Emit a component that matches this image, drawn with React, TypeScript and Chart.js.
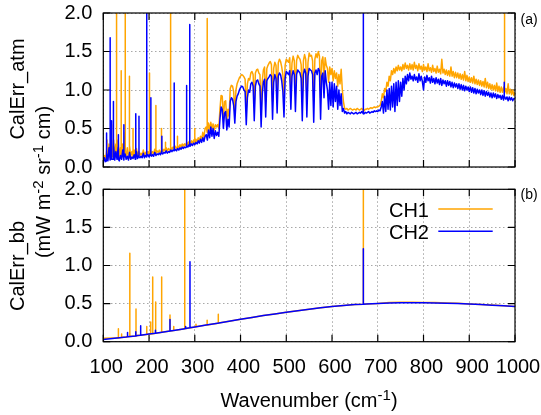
import React, { useEffect, useRef } from 'react';
import { Chart, registerables } from 'chart.js';

Chart.register(...registerables);

const FONT_FAMILY = "'Liberation Sans', Arial, Helvetica, sans-serif";
const ORANGE = '#ffa500';
const BLUE = '#0000ff';

const xTickValues = [100, 200, 300, 400, 500, 600, 700, 800, 900, 1000];
const yTickValues = [0, 0.5, 1.0, 1.5, 2.0];

// ---------- (a) CalErr_atm, sampled every 2.5 cm-1 from 100 (one row = 25 cm-1) ----------
const atmStartWn = 100;
const atmStepWn = 2.5;
const ch1Atm = [
  0.07, 0.15, 0.09, 0.22, 0.10, 0.30, 0.12, 0.20, 0.14, 0.35, // 100
  0.12, 0.30, 0.14, 0.35, 0.12, 0.25, 0.15, 0.30, 0.13, 0.45, // 125
  0.14, 0.25, 0.12, 0.28, 0.14, 0.20, 0.14, 0.22, 0.13, 0.24, // 150
  0.14, 0.20, 0.15, 0.18, 0.15, 0.22, 0.15, 0.19, 0.16, 0.20, // 175
  0.16, 0.22, 0.17, 0.20, 0.17, 0.23, 0.18, 0.21, 0.19, 0.22, // 200
  0.19, 0.24, 0.20, 0.23, 0.21, 0.25, 0.21, 0.24, 0.22, 0.26, // 225
  0.23, 0.26, 0.24, 0.27, 0.24, 0.28, 0.25, 0.29, 0.26, 0.30, // 250
  0.27, 0.30, 0.28, 0.32, 0.29, 0.33, 0.30, 0.34, 0.31, 0.35, // 275
  0.32, 0.36, 0.33, 0.38, 0.34, 0.40, 0.36, 0.45, 0.38, 0.50, // 300
  0.52, 0.45, 0.57, 0.48, 0.58, 0.50, 0.56, 0.48, 0.55, 0.52, // 325
  0.55, 0.50, 0.75, 0.93, 0.92, 0.62, 0.85, 0.86, 0.60, 0.75, // 350
  0.65, 1.02, 1.06, 1.05, 0.98, 0.70, 1.00, 1.08, 1.12, 1.16, // 375
  1.18, 1.20, 1.19, 1.17, 1.14, 0.75, 1.08, 1.15, 1.13, 1.22, // 400
  1.24, 1.20, 0.80, 1.22, 1.26, 1.27, 1.22, 1.20, 0.72, 1.12, // 425
  1.26, 1.30, 0.85, 1.28, 1.32, 1.35, 1.37, 1.33, 0.85, 1.28, // 450
  1.36, 1.32, 0.95, 1.35, 1.40, 1.37, 1.30, 1.20, 0.90, 1.32, // 475
  1.40, 1.38, 1.36, 1.42, 1.00, 1.35, 1.44, 1.38, 0.95, 1.38, // 500
  1.45, 1.42, 1.40, 1.33, 0.88, 1.38, 1.46, 1.40, 0.90, 1.36, // 525
  1.48, 1.44, 1.45, 1.38, 0.85, 1.40, 1.47, 1.42, 1.50, 1.44, // 550
  0.90, 1.38, 1.43, 1.15, 1.42, 1.32, 1.28, 1.10, 1.30, 1.20, // 575
  1.28, 1.12, 1.25, 1.15, 1.22, 1.05, 1.20, 1.08, 1.27, 1.00, // 600
  0.85, 0.76, 0.75, 0.76, 0.74, 0.75, 0.76, 0.75, 0.74, 0.75, // 625
  0.75, 0.74, 0.76, 0.75, 0.74, 0.75, 0.76, 0.74, 0.73, 0.75, // 650
  0.75, 0.76, 0.75, 0.76, 0.77, 0.76, 0.77, 0.78, 0.77, 0.78, // 675
  0.78, 0.79, 0.80, 0.85, 0.95, 0.90, 1.02, 0.98, 1.10, 1.05, // 700
  1.18, 1.12, 1.25, 1.20, 1.28, 1.22, 1.30, 1.25, 1.32, 1.26, // 725
  1.30, 1.25, 1.33, 1.27, 1.35, 1.28, 1.32, 1.26, 1.34, 1.27, // 750
  1.33, 1.26, 1.36, 1.28, 1.32, 1.25, 1.34, 1.27, 1.31, 1.24, // 775
  1.33, 1.26, 1.30, 1.24, 1.34, 1.25, 1.29, 1.23, 1.32, 1.24, // 800
  1.28, 1.22, 1.31, 1.23, 1.27, 1.21, 1.40, 1.22, 1.27, 1.20, // 825
  1.26, 1.19, 1.25, 1.18, 1.30, 1.18, 1.24, 1.16, 1.23, 1.16, // 850
  1.22, 1.15, 1.21, 1.14, 1.20, 1.13, 1.24, 1.12, 1.19, 1.11, // 875
  1.17, 1.10, 1.16, 1.09, 1.18, 1.08, 1.14, 1.07, 1.13, 1.06, // 900
  1.12, 1.05, 1.11, 1.04, 1.15, 1.03, 1.10, 1.02, 1.08, 1.01, // 925
  1.07, 1.00, 1.06, 0.99, 1.09, 0.98, 1.05, 0.97, 1.04, 0.97, // 950
  1.03, 0.96, 1.02, 0.95, 1.08, 0.95, 1.01, 0.94, 1.00, 0.93, // 975
  0.97, // 1000
];
const ch2Atm = [
  0.05, 0.12, 0.07, 0.18, 0.08, 0.25, 0.09, 0.14, 0.10, 0.30, // 100
  0.09, 0.20, 0.10, 0.26, 0.08, 0.15, 0.10, 0.22, 0.09, 0.17, // 125
  0.10, 0.14, 0.09, 0.19, 0.10, 0.13, 0.11, 0.16, 0.10, 0.20, // 150
  0.11, 0.15, 0.12, 0.14, 0.12, 0.18, 0.12, 0.15, 0.13, 0.16, // 175
  0.13, 0.17, 0.14, 0.16, 0.14, 0.19, 0.15, 0.17, 0.16, 0.18, // 200
  0.16, 0.20, 0.17, 0.19, 0.18, 0.21, 0.18, 0.20, 0.19, 0.22, // 225
  0.20, 0.22, 0.21, 0.23, 0.21, 0.24, 0.22, 0.25, 0.23, 0.26, // 250
  0.24, 0.26, 0.25, 0.28, 0.26, 0.29, 0.27, 0.30, 0.28, 0.31, // 275
  0.29, 0.32, 0.30, 0.34, 0.31, 0.36, 0.32, 0.38, 0.33, 0.40, // 300
  0.42, 0.35, 0.48, 0.38, 0.52, 0.40, 0.50, 0.37, 0.47, 0.41, // 325
  0.45, 0.40, 0.62, 0.78, 0.75, 0.50, 0.70, 0.72, 0.48, 0.62, // 350
  0.52, 0.85, 0.90, 0.88, 0.80, 0.57, 0.85, 0.92, 0.95, 1.00, // 375
  1.03, 1.05, 1.04, 1.00, 0.98, 0.55, 0.90, 1.00, 0.97, 1.08, // 400
  1.10, 1.05, 0.60, 1.05, 1.12, 1.13, 1.08, 1.05, 0.52, 0.95, // 425
  1.10, 1.14, 0.65, 1.12, 1.15, 1.17, 1.20, 1.18, 0.62, 1.10, // 450
  1.20, 1.15, 0.70, 1.18, 1.22, 1.20, 1.12, 0.98, 0.65, 1.15, // 475
  1.24, 1.22, 1.20, 1.25, 0.75, 1.18, 1.25, 1.20, 0.72, 1.20, // 500
  1.26, 1.24, 1.22, 1.15, 0.60, 1.20, 1.27, 1.22, 0.65, 1.18, // 525
  1.28, 1.26, 1.25, 1.20, 0.58, 1.22, 1.26, 1.20, 1.28, 1.25, // 550
  0.62, 1.18, 1.22, 0.90, 1.25, 1.10, 1.00, 0.75, 1.10, 0.80, // 575
  1.10, 0.78, 1.08, 0.85, 1.05, 0.75, 1.00, 0.80, 0.95, 0.72, // 600
  0.76, 0.70, 0.72, 0.69, 0.71, 0.70, 0.69, 0.71, 0.70, 0.69, // 625
  0.70, 0.71, 0.69, 0.70, 0.71, 0.70, 0.72, 0.70, 0.69, 0.71, // 650
  0.70, 0.71, 0.72, 0.70, 0.71, 0.72, 0.71, 0.73, 0.72, 0.73, // 675
  0.72, 0.74, 0.73, 0.78, 0.85, 0.70, 0.92, 0.72, 1.00, 0.75, // 700
  1.02, 0.74, 1.05, 0.78, 1.08, 0.72, 1.10, 0.80, 1.12, 0.85, // 725
  1.10, 0.92, 1.15, 1.00, 1.18, 1.08, 1.20, 1.12, 1.22, 1.14, // 750
  1.18, 1.12, 1.20, 1.13, 1.17, 1.10, 1.21, 1.12, 1.18, 1.11, // 775
  1.00, 1.17, 1.10, 1.19, 1.12, 1.16, 1.09, 1.18, 1.10, 1.15, // 800
  1.08, 1.16, 1.09, 1.14, 1.07, 1.15, 1.06, 1.13, 1.08, 1.12, // 825
  1.05, 1.12, 1.06, 1.11, 1.04, 1.10, 1.03, 1.09, 1.04, 1.08, // 850
  1.02, 1.08, 1.01, 1.07, 1.00, 1.06, 0.99, 1.05, 1.00, 1.04, // 875
  0.98, 1.04, 0.97, 1.03, 0.96, 1.02, 0.95, 1.01, 0.96, 1.00, // 900
  0.94, 1.00, 0.93, 0.99, 0.92, 0.98, 0.93, 0.97, 0.91, 0.96, // 925
  0.90, 0.96, 0.91, 0.95, 0.89, 0.94, 0.90, 0.93, 0.88, 0.93, // 950
  0.87, 0.92, 0.88, 0.91, 0.86, 0.91, 0.87, 0.90, 0.86, 0.89, // 975
  0.88, // 1000
];
// narrow lines in (a): wavenumber, value at foot, value at top
const ch1AtmSpikeWn = [108, 118, 129, 138.7, 148, 157, 165, 201, 215, 227, 236, 247, 262, 300, 327, 977];
const ch1AtmSpikeBase = [0.10, 0.12, 0.15, 0.15, 0.15, 0.12, 0.12, 0.16, 0.18, 0.20, 0.20, 0.22, 0.24, 0.30, 0.45, 1.05];
const ch1AtmSpikePeak = [0.35, 0.55, 2.30, 1.25, 2.30, 1.18, 0.50, 1.22, 0.80, 0.50, 0.32, 2.30, 0.40, 0.50, 1.93, 2.30];
const ch2AtmSpikeWn = [107, 115, 118, 122, 133, 145, 171, 178, 195, 204, 228, 255, 282, 289, 668.5, 976];
const ch2AtmSpikeBase = [0.08, 0.10, 0.10, 0.10, 0.10, 0.12, 0.12, 0.13, 0.14, 0.15, 0.18, 0.21, 0.26, 0.27, 0.69, 0.92];
const ch2AtmSpikePeak = [0.44, 1.68, 0.60, 0.85, 0.42, 0.55, 0.69, 0.66, 2.30, 0.90, 0.40, 1.09, 1.06, 1.85, 2.30, 1.10];

// ---------- (b) CalErr_bb, sampled every 25 cm-1 from 100 ----------
const bbStartWn = 100;
const bbStepWn = 25;
const ch1Bb = [
  0.045, 0.050, 0.062, 0.080, 0.100, 0.122, 0.145, 0.168, 0.194, 0.219,
  0.243, 0.268, 0.294, 0.319, 0.343, 0.364, 0.385, 0.405, 0.425, 0.445,
  0.462, 0.476, 0.488, 0.496, 0.502, 0.515, 0.518, 0.518, 0.516, 0.513,
  0.508, 0.503, 0.496, 0.489, 0.481, 0.472, 0.463,
];
const ch2Bb = [
  0.030, 0.045, 0.062, 0.080, 0.100, 0.122, 0.145, 0.168, 0.194, 0.219,
  0.243, 0.268, 0.294, 0.319, 0.343, 0.364, 0.385, 0.405, 0.425, 0.445,
  0.462, 0.476, 0.488, 0.496, 0.502, 0.507, 0.510, 0.511, 0.511, 0.509,
  0.505, 0.500, 0.494, 0.487, 0.479, 0.471, 0.462,
];
const ch1BbSpikeWn = [133, 140, 158, 171.5, 195, 203.6, 208, 214.5, 227.6, 245.8, 254, 278, 302.6, 327, 351.4, 668.5];
const ch1BbSpikeBase = [0.05, 0.055, 0.068, 0.076, 0.095, 0.10, 0.105, 0.11, 0.125, 0.14, 0.148, 0.17, 0.196, 0.22, 0.245, 0.49];
const ch1BbSpikePeak = [0.17, 0.10, 1.16, 0.43, 0.20, 0.26, 0.85, 0.52, 0.85, 0.35, 0.20, 2.30, 0.23, 0.28, 0.36, 2.30];
const ch2BbSpikeWn = [153, 171, 181.7, 214, 245.8, 280, 289.5, 668.5];
const ch2BbSpikeBase = [0.065, 0.076, 0.085, 0.11, 0.14, 0.172, 0.182, 0.49];
const ch2BbSpikePeak = [0.12, 0.13, 0.21, 0.15, 0.29, 0.20, 1.05, 1.22];

type Pt = { x: number; y: number };

function buildSeries(
  start: number,
  step: number,
  values: number[],
  spikeWn: number[],
  spikeBase: number[],
  spikePeak: number[],
): Pt[] {
  const pts: Pt[] = values.map((v, i) => ({ x: start + i * step, y: v }));
  spikeWn.forEach((w, i) => {
    pts.push({ x: w, y: spikeBase[i] }, { x: w, y: spikePeak[i] }, { x: w, y: spikeBase[i] });
  });
  pts.sort((a, b) => a.x - b.x);
  return pts;
}

// page layout
const TOP_CANVAS_TOP = 0;
const TOP_CANVAS_H = 175;
const BOT_CANVAS_TOP = 165;
const BOT_CANVAS_H = 250;
const AREA_LEFT = 103.3;
const AREA_RIGHT = 515;
const TOP_AREA = [13, 167];
const BOT_AREA = [189.3, 341.7];

const decorPlugin = {
  id: 'decor',
  beforeDatasetsDraw(chart: any) {
    const { ctx, chartArea: a } = chart;
    const xs = chart.scales.x;
    const ys = chart.scales.y;
    const L = 7;
    ctx.save();
    ctx.strokeStyle = '#000';
    ctx.lineWidth = 1.2;
    ctx.beginPath();
    xTickValues.forEach((v) => {
      const p = xs.getPixelForValue(v);
      ctx.moveTo(p, a.bottom);
      ctx.lineTo(p, a.bottom - L);
      ctx.moveTo(p, a.top);
      ctx.lineTo(p, a.top + L);
    });
    yTickValues.forEach((v) => {
      const p = ys.getPixelForValue(v);
      ctx.moveTo(a.left, p);
      ctx.lineTo(a.left + L, p);
      ctx.moveTo(a.right, p);
      ctx.lineTo(a.right - L, p);
    });
    ctx.stroke();
    ctx.restore();
  },
  afterDatasetsDraw(chart: any, _args: any, opts: any) {
    const { ctx, chartArea: a } = chart;
    ctx.save();
    ctx.strokeStyle = '#000';
    ctx.lineWidth = 1.2;
    ctx.strokeRect(a.left, a.top, a.right - a.left, a.bottom - a.top);
    if (opts && opts.legend) {
      ctx.lineWidth = 1.5;
      const x0 = a.right - 76.7;
      const x1 = a.right - 22.3;
      ctx.strokeStyle = ORANGE;
      ctx.beginPath();
      ctx.moveTo(x0, a.top + 19.7);
      ctx.lineTo(x1, a.top + 19.7);
      ctx.stroke();
      ctx.strokeStyle = BLUE;
      ctx.beginPath();
      ctx.moveTo(x0, a.top + 41.9);
      ctx.lineTo(x1, a.top + 41.9);
      ctx.stroke();
    }
    ctx.restore();
  },
};

function zeroPadding(s: any) {
  s.paddingLeft = 0;
  s.paddingRight = 0;
  s.paddingTop = 0;
  s.paddingBottom = 0;
}

function makeConfig(
  ch1: Pt[],
  ch2: Pt[],
  showXLabels: boolean,
  canvasTop: number,
  canvasH: number,
  area: number[],
  legend: boolean,
) {
  const gridOpts = { color: '#a8a8a8', lineWidth: 1, drawTicks: false };
  const borderOpts = { display: false, dash: [1.5, 2.5] };
  return {
    type: 'line',
    data: {
      datasets: [
        {
          label: 'CH1',
          data: ch1,
          borderColor: ORANGE,
          backgroundColor: ORANGE,
          borderWidth: 1.5,
          pointRadius: 0,
          fill: false,
          tension: 0,
          borderJoinStyle: 'round',
          clip: 0,
          order: 1,
        },
        {
          label: 'CH2',
          data: ch2,
          borderColor: BLUE,
          backgroundColor: BLUE,
          borderWidth: 1.5,
          pointRadius: 0,
          fill: false,
          tension: 0,
          borderJoinStyle: 'round',
          clip: 0,
          order: 0,
        },
      ],
    },
    options: {
      responsive: false,
      animation: false,
      devicePixelRatio: 1,
      events: [],
      layout: {
        autoPadding: false,
        padding: { left: 0, right: 541 - AREA_RIGHT, top: area[0] - canvasTop, bottom: 0 },
      },
      plugins: {
        legend: { display: false },
        tooltip: { enabled: false },
        decor: { legend },
      },
      scales: {
        x: {
          type: 'linear',
          min: 100,
          max: 1000,
          afterBuildTicks: (s: any) => {
            s.ticks = xTickValues.map((value) => ({ value }));
          },
          ticks: {
            display: showXLabels,
            font: { family: FONT_FAMILY, size: 20 },
            color: '#000',
            padding: 14,
            labelOffset: 3,
            maxRotation: 0,
            autoSkip: false,
            callback: (v: any) => String(v),
          },
          grid: gridOpts,
          border: borderOpts,
          afterFit: (s: any) => {
            s.height = canvasH - (area[1] - canvasTop);
            zeroPadding(s);
          },
        },
        y: {
          type: 'linear',
          min: 0,
          max: 2,
          afterBuildTicks: (s: any) => {
            s.ticks = yTickValues.map((value) => ({ value }));
          },
          ticks: {
            font: { family: FONT_FAMILY, size: 20 },
            color: '#000',
            padding: 11,
            callback: (v: any) => Number(v).toFixed(1),
          },
          grid: gridOpts,
          border: borderOpts,
          afterFit: (s: any) => {
            s.width = AREA_LEFT;
            zeroPadding(s);
          },
        },
      },
    },
    plugins: [decorPlugin],
  };
}

const baseText: React.CSSProperties = {
  position: 'absolute',
  fontFamily: FONT_FAMILY,
  fontSize: 20,
  lineHeight: '20px',
  whiteSpace: 'nowrap',
  color: '#000',
};

const supStyle: React.CSSProperties = {
  fontSize: 15,
  position: 'relative',
  top: -7,
  lineHeight: 0,
};

function RotLabel({ cx, cy, children }: { cx: number; cy: number; children: React.ReactNode }) {
  return (
    <div
      style={{
        ...baseText,
        left: cx,
        top: cy,
        transform: 'translate(-50%, -50%) rotate(-90deg)',
      }}
    >
      {children}
    </div>
  );
}

export default function App() {
  const topRef = useRef<HTMLCanvasElement>(null);
  const botRef = useRef<HTMLCanvasElement>(null);

  useEffect(() => {
    const atm1 = buildSeries(atmStartWn, atmStepWn, ch1Atm, ch1AtmSpikeWn, ch1AtmSpikeBase, ch1AtmSpikePeak);
    const atm2 = buildSeries(atmStartWn, atmStepWn, ch2Atm, ch2AtmSpikeWn, ch2AtmSpikeBase, ch2AtmSpikePeak);
    const bb1 = buildSeries(bbStartWn, bbStepWn, ch1Bb, ch1BbSpikeWn, ch1BbSpikeBase, ch1BbSpikePeak);
    const bb2 = buildSeries(bbStartWn, bbStepWn, ch2Bb, ch2BbSpikeWn, ch2BbSpikeBase, ch2BbSpikePeak);
    const c1 = new Chart(
      topRef.current as HTMLCanvasElement,
      makeConfig(atm1, atm2, false, TOP_CANVAS_TOP, TOP_CANVAS_H, TOP_AREA, false) as any,
    );
    const c2 = new Chart(
      botRef.current as HTMLCanvasElement,
      makeConfig(bb1, bb2, true, BOT_CANVAS_TOP, BOT_CANVAS_H, BOT_AREA, true) as any,
    );
    return () => {
      c1.destroy();
      c2.destroy();
    };
  }, []);

  return (
    <div
      style={{
        position: 'fixed',
        left: 0,
        top: 0,
        width: 541,
        height: 415,
        background: '#fff',
        overflow: 'hidden',
      }}
    >
      <canvas
        ref={topRef}
        width={541}
        height={TOP_CANVAS_H}
        style={{ position: 'absolute', left: 0, top: TOP_CANVAS_TOP, width: 541, height: TOP_CANVAS_H }}
      />
      <canvas
        ref={botRef}
        width={541}
        height={BOT_CANVAS_H}
        style={{ position: 'absolute', left: 0, top: BOT_CANVAS_TOP, width: 541, height: BOT_CANVAS_H }}
      />
      <RotLabel cx={17.3} cy={89}>CalErr_atm</RotLabel>
      <RotLabel cx={17.3} cy={266}>CalErr_bb</RotLabel>
      <RotLabel cx={43} cy={181.5}>
        (mW m<span style={supStyle}>-2</span> sr<span style={supStyle}>-1</span> cm)
      </RotLabel>
      <div style={{ ...baseText, left: 309, top: 400, transform: 'translate(-50%, -50%)' }}>
        Wavenumber (cm<span style={supStyle}>-1</span>)
      </div>
      <div style={{ ...baseText, fontSize: 14, lineHeight: '14px', left: 520.5, top: 19.4 - 7 }}>(a)</div>
      <div style={{ ...baseText, fontSize: 14, lineHeight: '14px', left: 520.5, top: 194.4 - 7 }}>(b)</div>
      <div style={{ ...baseText, right: 541 - 429, top: 210 - 10 }}>CH1</div>
      <div style={{ ...baseText, right: 541 - 429, top: 232 - 10 }}>CH2</div>
    </div>
  );
}
